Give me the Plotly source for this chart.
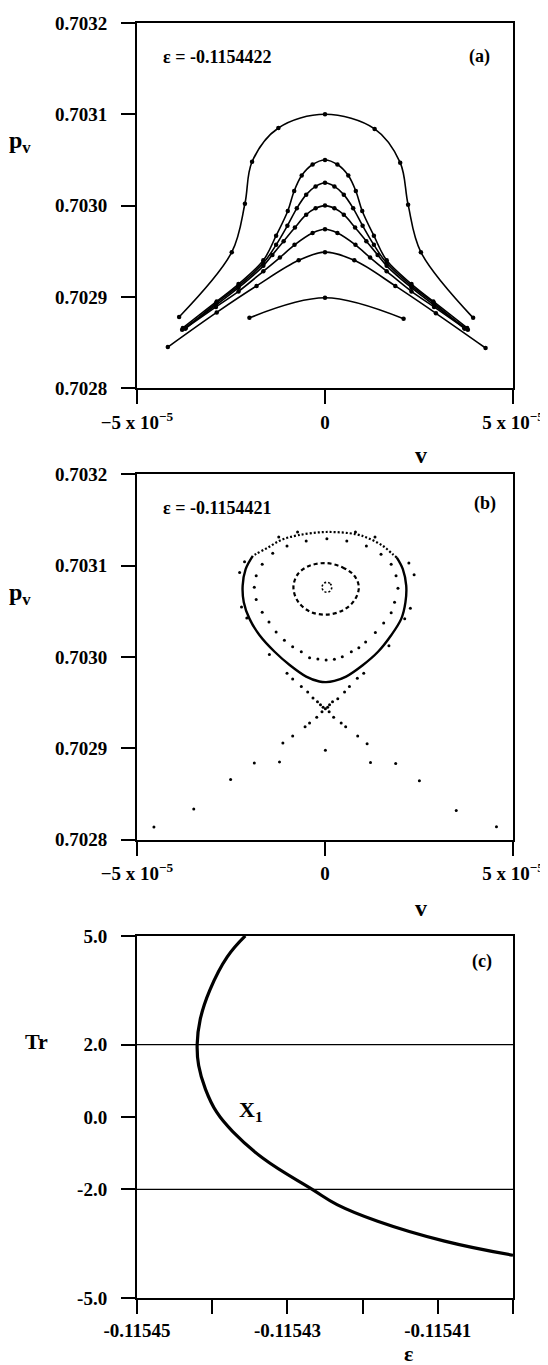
import plotly.graph_objects as go

# ---------------- panel (a): p_v vs v, eps = -0.1154422 (v in units of 1e-5)
a1_v = [-3.88, -2.48, -2.13, -1.94, -1.24, 0.0, 1.32, 2.00, 2.21, 2.55, 3.94]
a1_p = [0.702878, 0.702949, 0.703002, 0.703048, 0.703085, 0.703100,
        0.703084, 0.703047, 0.703001, 0.702949, 0.702877]

a2_v = [-3.78, -2.88, -2.30, -1.64, -1.30, -0.99, -0.82, -0.62, -0.33, 0.0,
        0.33, 0.62, 0.82, 0.99, 1.30, 1.64, 2.30, 2.88, 3.78]
a2_p = [0.702866, 0.702895, 0.702914, 0.702940, 0.702967, 0.702994, 0.703016, 0.703033, 0.703045, 0.703050,
        0.703045, 0.703033, 0.703016, 0.702994, 0.702967, 0.702940, 0.702914, 0.702895, 0.702866]

a3_v = [-3.72, -2.90, -2.30, -1.64, -1.30, -1.00, -0.75, -0.50, -0.25, 0.0,
        0.25, 0.50, 0.75, 1.00, 1.30, 1.64, 2.30, 2.90, 3.72]
a3_p = [0.702865, 0.702893, 0.702912, 0.702937, 0.702957, 0.702978, 0.702997, 0.703012, 0.703021, 0.703025,
        0.703021, 0.703012, 0.702997, 0.702978, 0.702957, 0.702937, 0.702912, 0.702893, 0.702865]

a4_v = [-3.80, -2.90, -2.30, -1.64, -1.40, -1.10, -0.80, -0.50, -0.25, 0.0,
        0.25, 0.50, 0.80, 1.10, 1.40, 1.64, 2.30, 2.90, 3.80]
a4_p = [0.702864, 0.702891, 0.702910, 0.702934, 0.702946, 0.702961, 0.702976, 0.702990, 0.702997, 0.703000,
        0.702997, 0.702990, 0.702976, 0.702961, 0.702946, 0.702934, 0.702910, 0.702891, 0.702864]

a5_v = [-3.70, -2.90, -2.30, -1.64, -1.20, -0.81, -0.33, 0.0,
        0.33, 0.81, 1.20, 1.64, 2.30, 2.90, 3.70]
a5_p = [0.702866, 0.702889, 0.702906, 0.702928, 0.702943, 0.702957, 0.702970, 0.702974,
        0.702970, 0.702957, 0.702943, 0.702928, 0.702906, 0.702889, 0.702866]

a6_v = [-4.18, -2.88, -1.82, -0.70, 0.0, 0.78, 1.87, 2.95, 4.27]
a6_p = [0.702845, 0.702883, 0.702912, 0.702940, 0.702949, 0.702940, 0.702912, 0.702882, 0.702844]

a7_v = [-2.01, 0.0, 2.09]
a7_p = [0.702877, 0.702899, 0.702876]

# ---------------- panel (b): Poincare section, eps = -0.1154421
b_solid_v = [-1.92, -2.11, -2.19, -2.16, -2.01, -1.74, -1.34, -0.94, -0.50, -0.15, 0.03,
             0.25, 0.56, 1.01, 1.41, 1.76, 2.03, 2.14, 2.16, 2.07, 1.91]
b_solid_p = [0.7031109, 0.7030964, 0.7030783, 0.7030601, 0.7030421, 0.7030239, 0.7030058,
             0.7029913, 0.7029786, 0.7029732, 0.7029725, 0.7029739, 0.7029786, 0.7029913,
             0.7030058, 0.7030239, 0.7030421, 0.7030601, 0.7030783, 0.7030964, 0.7031090]

b_top_v = [1.91, 1.80, 1.54, 1.18, 0.83, 0.03, -0.72, -1.16, -1.52, -1.83, -1.92]
b_top_p = [0.7031090, 0.7031127, 0.7031217, 0.7031297, 0.7031345, 0.7031370,
           0.7031334, 0.7031283, 0.7031199, 0.7031130, 0.7031109]

b_mid_v = [-1.39, -1.67, -1.83, -1.88, -1.83, -1.67, -1.49, -1.30, -1.08, -0.86, -0.63, -0.41,
           -0.19, 0.03, 0.25, 0.46, 0.70, 0.90, 1.08, 1.34, 1.56, 1.76, 1.85, 1.94, 1.89,
           1.76, 1.49, 1.10, 0.58, 0.05, -0.50, -1.01]
b_mid_p = [0.7031138, 0.7031018, 0.7030891, 0.7030764, 0.7030630, 0.7030492, 0.7030384,
           0.7030275, 0.7030185, 0.7030112, 0.7030058, 0.7029992, 0.7029978, 0.7029967,
           0.7029975, 0.7030003, 0.7030058, 0.7030101, 0.7030166, 0.7030268, 0.7030373,
           0.7030486, 0.7030601, 0.7030753, 0.7030891, 0.7031018, 0.7031127, 0.7031217,
           0.7031272, 0.7031297, 0.7031272, 0.7031217]

b_ell_v = [0.03, 0.47, 0.78, 0.90, 0.78, 0.47, 0.03, -0.41, -0.72, -0.84, -0.72, -0.41, 0.03]
b_ell_p = [0.7031029, 0.7030982, 0.7030891, 0.7030764, 0.7030620, 0.7030511, 0.7030464,
           0.7030500, 0.7030609, 0.7030764, 0.7030910, 0.7031000, 0.7031029]

b_core_v = [0.05, 0.14, 0.18, 0.14, 0.05, -0.04, -0.08, -0.04, 0.05]
b_core_p = [0.7030819, 0.7030803, 0.7030764, 0.7030725, 0.7030709, 0.7030725,
            0.7030764, 0.7030803, 0.7030819]

b_sep_v = [-2.27, -2.14, -2.22, -2.08, -1.48, -1.01, -0.86, -1.23, -0.73, 0.81, 1.33,
           2.23, 2.37, 2.27, 2.12, 1.70, 1.03, 0.86,
           -0.63, -0.46, -0.32, -0.20, -0.12, -0.05, 0.01, 0.07, 0.12, 0.20, 0.34, 0.52, 0.65,
           -0.08, 0.11, -0.22, -0.41, -0.53, -0.86, -1.12, -1.21, -1.88, -2.51, -3.49, -4.55,
           0.23, 0.43, 0.55, 0.87, 1.12, 1.21, 1.88, 2.51, 3.49, 4.56, 0.01]
b_sep_p = [0.7030927, 0.7031043, 0.7030547, 0.7030427, 0.7030029, 0.7029823, 0.7029761,
           0.7031315, 0.7031370, 0.7031370, 0.7031315,
           0.7031029, 0.7030902, 0.7030536, 0.7030421, 0.7030123, 0.7029823, 0.7029768,
           0.7029677, 0.7029616, 0.7029551, 0.7029511, 0.7029478, 0.7029451, 0.7029435,
           0.7029451, 0.7029478, 0.7029511, 0.7029543, 0.7029616, 0.7029677,
           0.7029402, 0.7029402, 0.7029340, 0.7029279, 0.7029236, 0.7029134, 0.7029058,
           0.7028851, 0.7028840, 0.7028660, 0.7028337, 0.7028138,
           0.7029340, 0.7029279, 0.7029236, 0.7029134, 0.7029051, 0.7028845, 0.7028834,
           0.7028645, 0.7028318, 0.7028141, 0.7028978]

# ---------------- panel (c): trace of the monodromy matrix vs epsilon
c_eps = [-0.1154356, -0.1154380, -0.1154403, -0.1154416, -0.1154420, -0.1154418, -0.1154409,
         -0.1154394, -0.1154372, -0.1154332, -0.1154267, -0.1154234, -0.1154180, -0.1154091,
         -0.1154000]
c_tr = [5.0, 4.42, 3.51, 2.69, 2.0, 1.42, 0.77, 0.13, -0.42, -1.15, -2.0, -2.42, -2.88, -3.43, -3.82]
tr_bounds = [2.0, -2.0]

py_ticks = [0.7028, 0.7029, 0.7030, 0.7031, 0.7032]
v_ticks = [-5, 0, 5]
v_labels = ['\u22125 x 10<sup>\u22125</sup>', '0', '5 x 10<sup>\u22125</sup>']
eps_ticks = [-0.11545, -0.11544, -0.11543, -0.11542, -0.11541, -0.11540]
eps_labels = ['-0.11545', '', '-0.11543', '', '-0.11541', '']
tr_ticks = [-5.0, -2.0, 0.0, 2.0, 5.0]

FONT = 'Liberation Serif'
tickfont = dict(family=FONT, size=19, color='black', weight='bold')

fig = go.Figure()

for v, p in [(a1_v, a1_p), (a2_v, a2_p), (a3_v, a3_p), (a4_v, a4_p),
             (a5_v, a5_p), (a6_v, a6_p), (a7_v, a7_p)]:
    fig.add_trace(go.Scatter(
        x=v, y=p, mode='lines+markers', xaxis='x', yaxis='y',
        line=dict(color='black', width=1.6, shape='spline', smoothing=1.0),
        marker=dict(color='black', size=4.5),
    ))

fig.add_trace(go.Scatter(
    x=b_solid_v, y=b_solid_p, mode='lines', xaxis='x2', yaxis='y2',
    line=dict(color='black', width=2.4, shape='spline', smoothing=1.0),
))
fig.add_trace(go.Scatter(
    x=b_top_v, y=b_top_p, mode='lines', xaxis='x2', yaxis='y2',
    line=dict(color='black', width=2.2, shape='spline', smoothing=1.0, dash='2px,2px'),
))
fig.add_trace(go.Scatter(
    x=b_ell_v, y=b_ell_p, mode='lines', xaxis='x2', yaxis='y2',
    line=dict(color='black', width=2.2, shape='spline', smoothing=1.0, dash='4px,3px'),
))
fig.add_trace(go.Scatter(
    x=b_core_v, y=b_core_p, mode='lines', xaxis='x2', yaxis='y2',
    line=dict(color='black', width=1.6, shape='spline', smoothing=1.0, dash='2px,2px'),
))
fig.add_trace(go.Scatter(
    x=b_mid_v + b_sep_v, y=b_mid_p + b_sep_p, mode='markers', xaxis='x2', yaxis='y2',
    marker=dict(color='black', size=3),
))

fig.add_trace(go.Scatter(
    x=c_eps, y=c_tr, mode='lines', xaxis='x3', yaxis='y3',
    line=dict(color='black', width=3.2, shape='spline', smoothing=1.2),
))

for tb in tr_bounds:
    fig.add_shape(type='line', xref='x3 domain', x0=0, x1=1, yref='y3', y0=tb, y1=tb,
                  line=dict(color='black', width=1.3))

axis_style = dict(
    showline=True, linecolor='black', linewidth=2, mirror=True,
    ticks='outside', ticklen=14, tickwidth=2, tickcolor='black',
    showgrid=False, zeroline=False, tickfont=tickfont,
)

# the page body adds an 8px offset, so the margins are shifted to compensate
fig.update_layout(
    width=548, height=1365,
    margin=dict(l=129, r=43, t=5, b=75),
    paper_bgcolor='white', plot_bgcolor='white',
    showlegend=False,

    xaxis=dict(axis_style, domain=[0, 1], anchor='y', range=[-5, 5],
               tickvals=v_ticks, ticktext=v_labels, ticklabelstandoff=2),
    yaxis=dict(axis_style, domain=[0.7136, 1.0], anchor='x', range=[0.7028, 0.7032],
               tickvals=py_ticks, ticktext=['%.4f' % t for t in py_ticks], ticklabelstandoff=10),

    xaxis2=dict(axis_style, domain=[0, 1], anchor='y2', range=[-5, 5],
                tickvals=v_ticks, ticktext=v_labels, ticklabelstandoff=2),
    yaxis2=dict(axis_style, domain=[0.3595, 0.6459], anchor='x2', range=[0.7028, 0.7032],
                tickvals=py_ticks, ticktext=['%.4f' % t for t in py_ticks], ticklabelstandoff=10),

    xaxis3=dict(axis_style, domain=[0, 1], anchor='y3', range=[-0.11545, -0.11540],
                tickvals=eps_ticks, ticktext=eps_labels, ticklabelstandoff=0),
    yaxis3=dict(axis_style, domain=[0, 0.2840], anchor='x3', range=[-5, 5],
                tickvals=tr_ticks, ticktext=['%.1f' % t for t in tr_ticks], ticklabelstandoff=10),
)


def label(text, x, y, size, xanchor='center'):
    fig.add_annotation(text=text, x=x, y=y, xref='paper', yref='paper',
                       xanchor=xanchor, yanchor='middle', showarrow=False,
                       font=dict(family=FONT, size=size, color='black', weight='bold'))


label('v', 0.755, 0.6615, 24)
label('v', 0.755, 0.3058, 24)
label('\u03b5', 0.721, -0.0435, 22)
label('p<sub>v</sub>', -0.31, 0.9066, 24)
label('p<sub>v</sub>', -0.31, 0.5525, 24)
label('Tr', -0.2686, 0.2008, 22)
label('\u03b5 = -0.1154422', 0.0638, 0.9735, 18, 'left')
label('(a)', 0.912, 0.9735, 18)
label('\u03b5 = -0.1154421', 0.0638, 0.6195, 18, 'left')
label('(b)', 0.9255, 0.6233, 18)
label('(c)', 0.9176, 0.2638, 18)
label('X<sub>1</sub>', 0.266, 0.1463, 22, 'left')

fig.write_html('out.html')
